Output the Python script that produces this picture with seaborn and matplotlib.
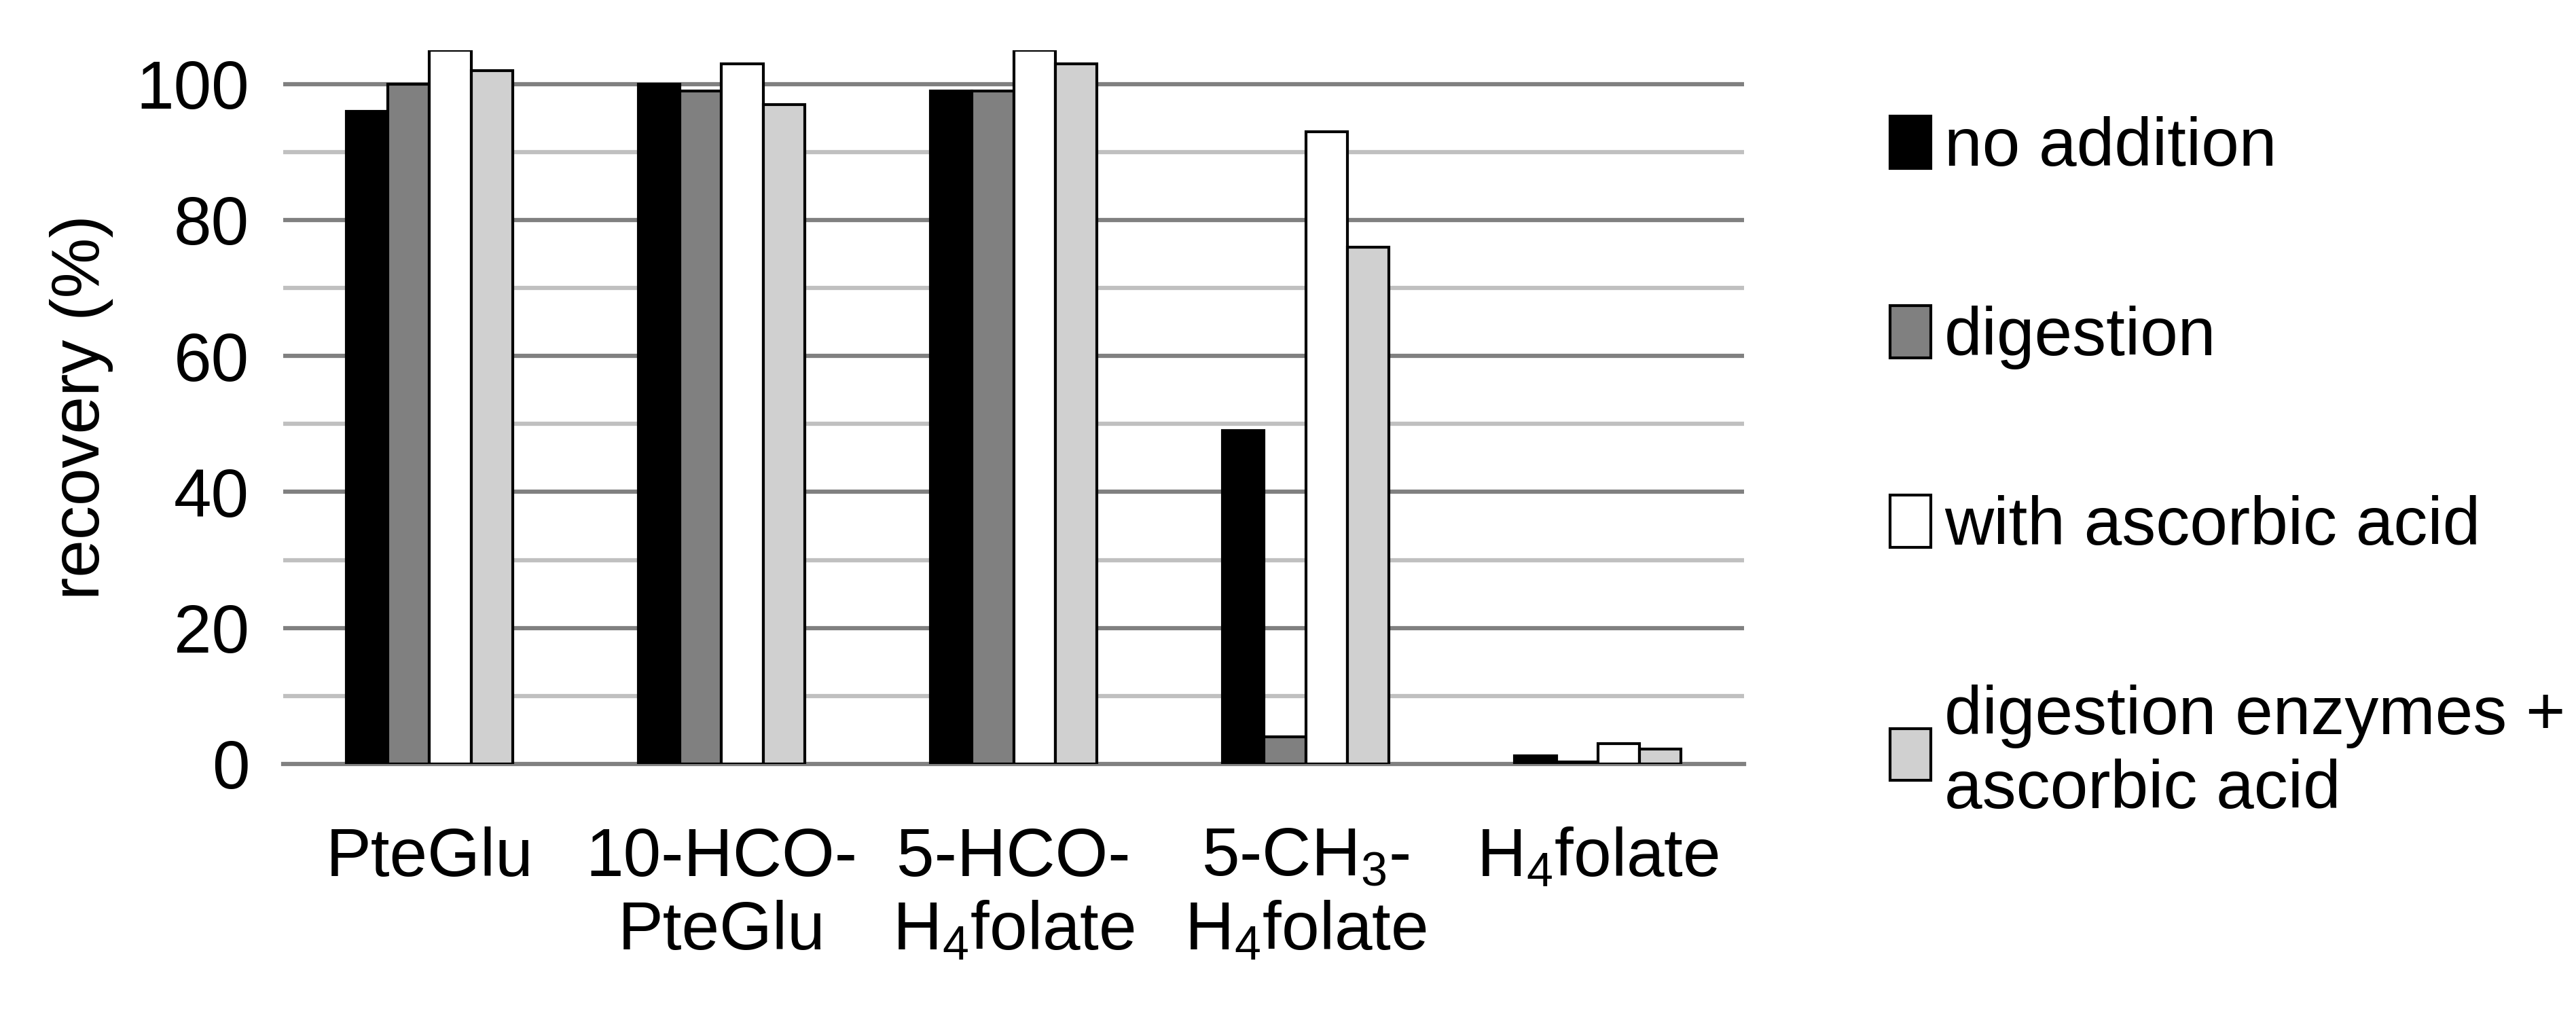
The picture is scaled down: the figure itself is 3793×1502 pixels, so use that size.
import matplotlib
matplotlib.use("Agg")
import matplotlib.pyplot as plt
import seaborn as sns
import pandas as pd

categories = ["PteGlu", "10-HCO-\nPteGlu", "5-HCO-\nH$_4$folate", "5-CH$_3$-\nH$_4$folate", "H$_4$folate"]
series = ["no addition", "digestion", "with ascorbic acid", "digestion enzymes +\nascorbic acid"]
no_addition = [96, 100, 99, 49, 1.2]
digestion = [100, 99, 99, 4, 0.3]
with_ascorbic = [105, 103, 105, 93, 3]
enzymes_ascorbic = [102, 97, 103, 76, 2.2]
colors = ["#000000", "#808080", "#ffffff", "#d0d0d0"]

rows = []
for s, vals in zip(series, [no_addition, digestion, with_ascorbic, enzymes_ascorbic]):
    for c, v in zip(categories, vals):
        rows.append({"cat": c, "series": s, "val": v})
df = pd.DataFrame(rows)

plt.rcParams["font.family"] = "Liberation Sans"
plt.rcParams["mathtext.fontset"] = "custom"
plt.rcParams["mathtext.rm"] = "Liberation Sans"
plt.rcParams["mathtext.it"] = "Liberation Sans"

FS = 24
fig = plt.figure(figsize=(3793/300, 1502/300), dpi=300)
ax = fig.add_axes([0.11, 0.251, 0.567, 0.70])
for y in range(10, 100, 20):
    ax.axhline(y, color="#c0c0c0", lw=1.5, zorder=0)
for y in range(20, 101, 20):
    ax.axhline(y, color="#808080", lw=1.5, zorder=0)
sns.barplot(data=df, x="cat", y="val", hue="series", palette=colors, width=0.57,
            edgecolor="black", linewidth=1.0, ax=ax, zorder=3, legend=True)
ax.set_ylim(0, 105)
ax.set_xlim(-0.5, 4.5)
ax.set_yticks(range(0, 101, 20))
ax.tick_params(axis="both", labelsize=FS, length=0, pad=12)
ax.tick_params(axis="x", pad=22)
for s in ["top", "right", "left"]:
    ax.spines[s].set_visible(False)
ax.spines["bottom"].set_color("#808080")
ax.spines["bottom"].set_linewidth(1.5)
ax.set_xlabel("")
ax.set_ylabel("recovery (%)", fontsize=FS, labelpad=8)
h, l = ax.get_legend_handles_labels()
ax.get_legend().remove()
fig.legend(h, l, loc="center left", bbox_to_anchor=(0.71, 0.54), frameon=False,
           fontsize=FS, labelspacing=1.85, handlelength=0.6, handleheight=0.8,
           handletextpad=0.2)
fig.savefig("out.png", dpi=300)
